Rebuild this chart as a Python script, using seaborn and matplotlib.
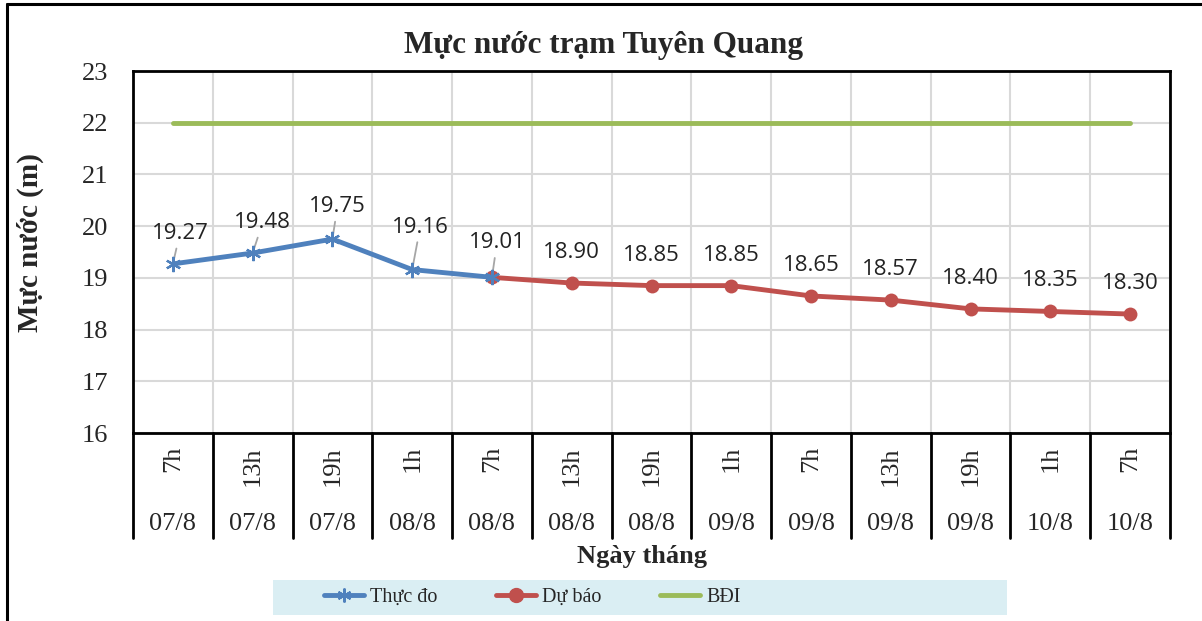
import pandas as pd
import matplotlib
matplotlib.use("Agg")
import matplotlib.pyplot as plt
import matplotlib.transforms as mtransforms
from matplotlib.lines import Line2D
from matplotlib.patches import Rectangle
import seaborn as sns

# Data
hours = ["7h", "13h", "19h", "1h", "7h", "13h", "19h", "1h", "7h", "13h", "19h", "1h", "7h"]
dates = ["07/8", "07/8", "07/8", "08/8", "08/8", "08/8", "08/8", "09/8", "09/8", "09/8", "09/8", "10/8", "10/8"]
observed = [19.27, 19.48, 19.75, 19.16, 19.01]
forecast = [19.01, 18.90, 18.85, 18.85, 18.65, 18.57, 18.40, 18.35, 18.30]
alarm_level = [22] * 13

BLUE = "#4F81BD"
RED = "#C0504D"
GREEN = "#9BBB59"

sns.set_style("white")
plt.rcParams["font.family"] = ["Liberation Serif", "DejaVu Serif"]

n = len(hours)
df_obs = pd.DataFrame({"x": range(len(observed)), "y": observed})
df_fc = pd.DataFrame({"x": range(len(observed) - 1, n), "y": forecast})
df_bd = pd.DataFrame({"x": range(n), "y": alarm_level})

fig = plt.figure(figsize=(12.02, 6.21), dpi=100)
ax = fig.add_axes([133 / 1202, 1 - 433 / 621, 1037 / 1202, 362 / 621])

sns.lineplot(data=df_bd, x="x", y="y", ax=ax, color=GREEN, linewidth=3.5, label="BĐI", zorder=2)
sns.lineplot(data=df_fc, x="x", y="y", ax=ax, color=RED, linewidth=3.5, marker="o",
             markersize=10, markeredgewidth=0, label="Dự báo", zorder=3)
sns.lineplot(data=df_obs, x="x", y="y", ax=ax, color=BLUE, linewidth=3.5, marker=(6, 2, 0),
             markersize=11, markeredgewidth=1.6, markeredgecolor=BLUE, label="Thực đo", zorder=4)
ax.get_legend().remove()

ax.set_xlim(-0.5, n - 0.5)
ax.set_ylim(16, 23)
ax.set_yticks(range(16, 24))
ax.tick_params(axis="y", labelsize=19, length=0, pad=18)
ax.set_xticks([i - 0.5 for i in range(n + 1)])
ax.set_xticklabels([])
ax.tick_params(axis="x", length=0)
ax.grid(True, color="#D9D9D9", linewidth=1.5)
for s in ax.spines.values():
    s.set_color("black")
    s.set_linewidth(2)

# data labels
lbl_font = dict(fontfamily="Open Sans", fontsize=16, color="#222222", ha="center", va="bottom")
obs_offsets = [(7, 20), (10, 20), (5, 22), (8, 32), (5, 24)]
for i, (v, off) in enumerate(zip(observed, obs_offsets)):
    ax.annotate(f"{v:.2f}", (i, v), xytext=off, textcoords="offset pixels",
                arrowprops=dict(arrowstyle="-", color="#A6A6A6", lw=1.3, shrinkA=1, shrinkB=3), **lbl_font)
for i, v in enumerate(forecast[1:], start=len(observed)):
    ax.annotate(f"{v:.2f}", (i, v), xytext=(0, 20), textcoords="offset pixels", **lbl_font)

# two-level category axis
trans = mtransforms.blended_transform_factory(ax.transData, ax.transAxes)
for k in range(n + 1):
    ax.plot([k - 0.5, k - 0.5], [0, -0.29], transform=trans, color="black", lw=2, clip_on=False)
for i in range(n):
    ax.text(i, -0.036, hours[i], transform=trans, rotation=90, ha="center", va="top", fontsize=19)
    ax.text(i, -0.25, dates[i], transform=trans, ha="center", va="center", fontsize=19)

ax.set_xlabel("")
ax.set_ylabel("")
fig.text(642 / 1202, 1 - 557 / 621, "Ngày tháng", ha="center", va="center", fontsize=19, fontweight="bold")
fig.text(30 / 1202, 1 - 243 / 621, "Mực nước (m)", ha="center", va="center", rotation=90,
         fontsize=21, fontweight="bold")
fig.text(604 / 1202, 1 - 45 / 621, "Mực nước trạm Tuyên Quang", ha="center", va="center",
         fontsize=22.5, fontweight="bold")

# outer chart frame (left and top edges visible)
fig.add_artist(Line2D([7 / 1202, 7 / 1202], [0, 1 - 4 / 621], color="black", lw=2.2))
fig.add_artist(Line2D([7 / 1202, 1], [1 - 4 / 621, 1 - 4 / 621], color="black", lw=2.2))

# legend band
fig.add_artist(Rectangle((273 / 1202, 1 - 615 / 621), 734 / 1202, 35 / 621,
                         transform=fig.transFigure, facecolor="#DAEEF3", edgecolor="none", zorder=0))
handles = [
    Line2D([], [], color=BLUE, lw=3.5, marker=(6, 2, 0), markersize=10, markeredgewidth=1.5),
    Line2D([], [], color=RED, lw=3.5, marker="o", markersize=10),
    Line2D([], [], color=GREEN, lw=3.5),
]
leg = fig.legend(handles, ["Thực đo", "Dự báo", "BĐI"], loc="center", ncol=3,
                 bbox_to_anchor=(532 / 1202, 1 - 597 / 621), frameon=False, fontsize=14.5,
                 handlelength=2.0, handletextpad=0.3, columnspacing=2.9, borderaxespad=0)

fig.savefig("out.png", dpi=100)
